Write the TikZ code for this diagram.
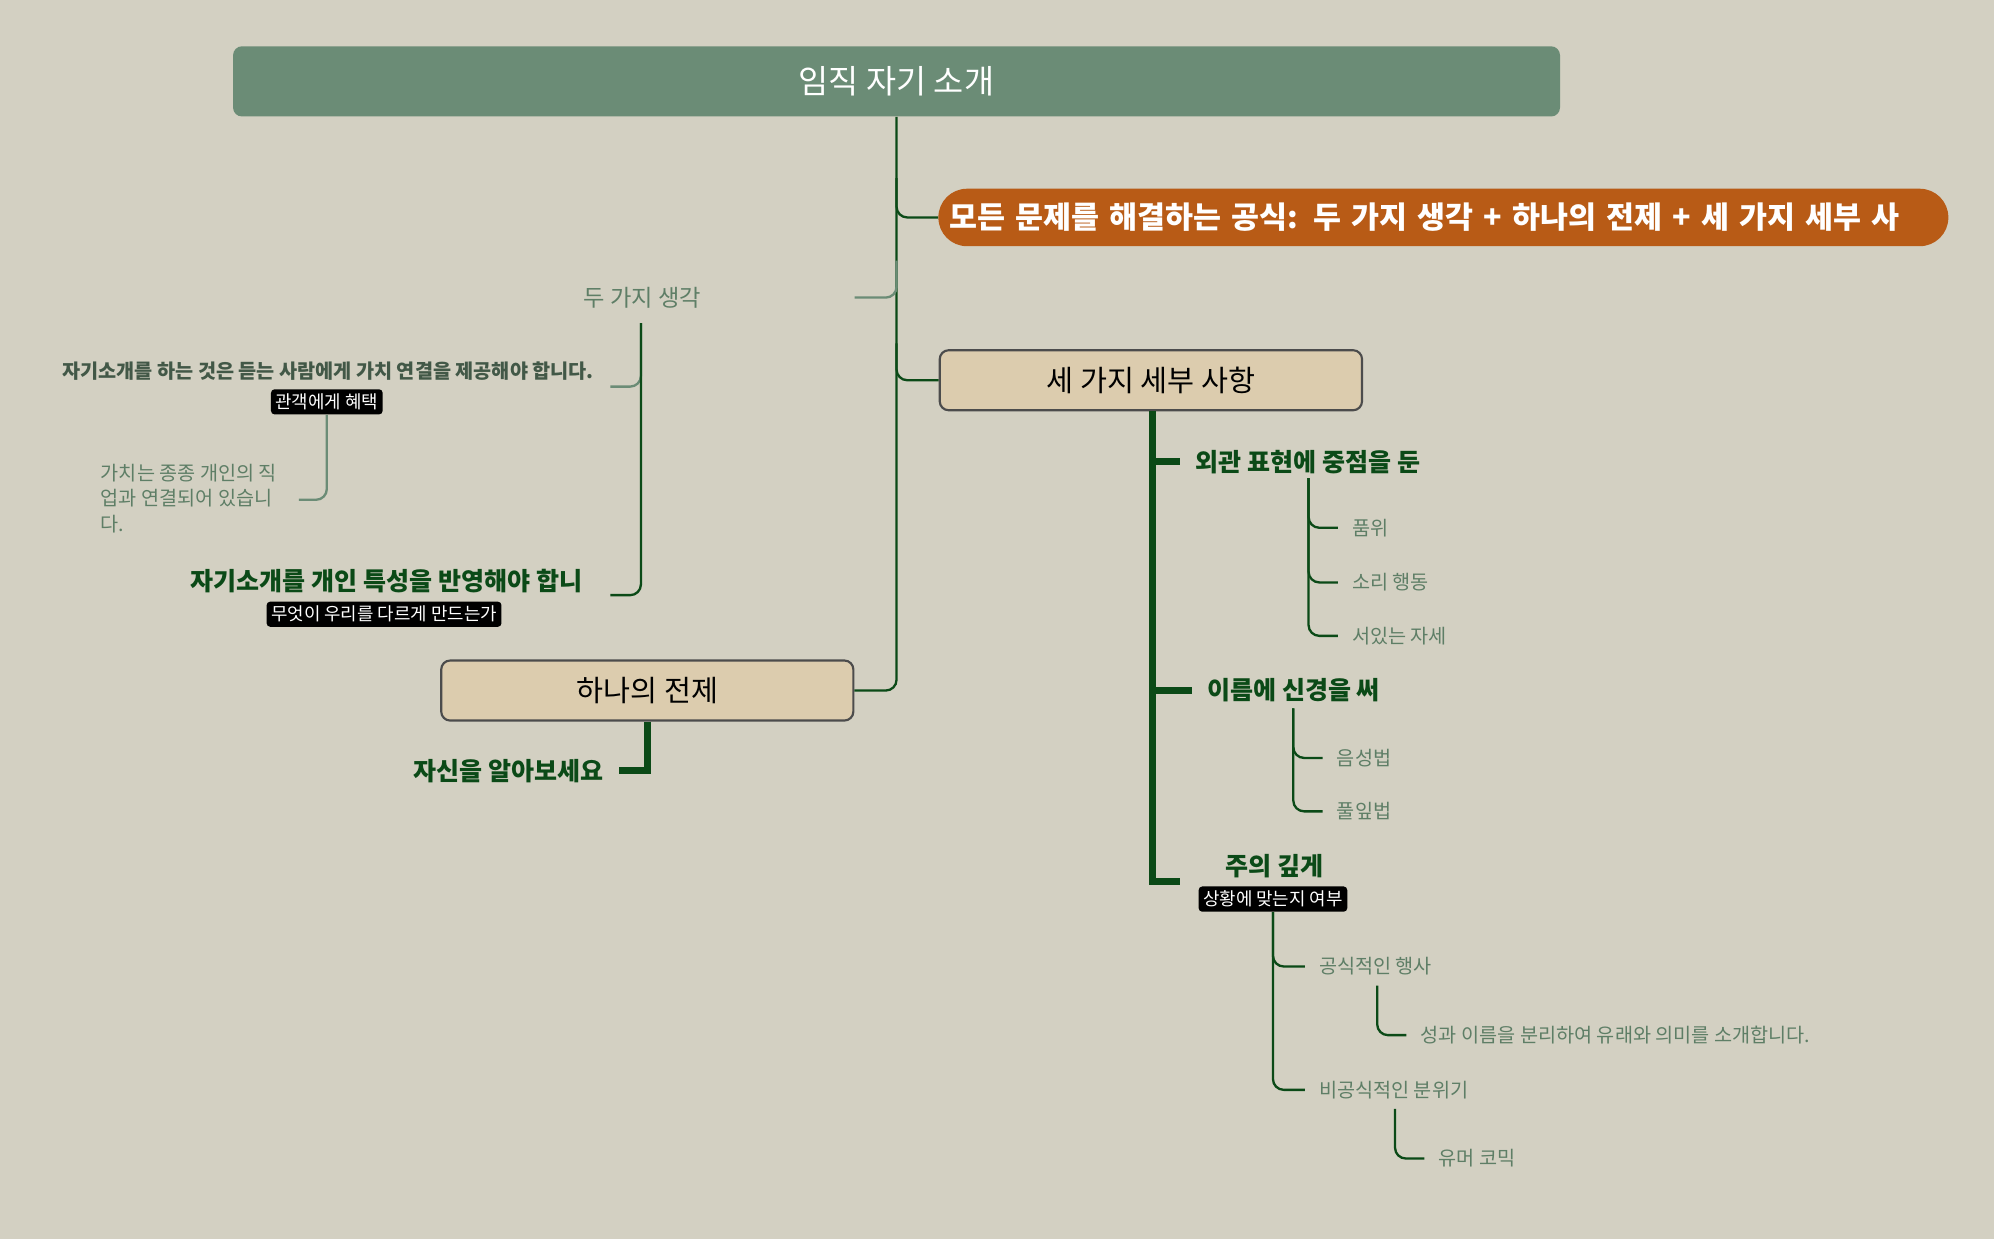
\documentclass[tikz,border=0pt]{standalone}
\usepackage{fontspec}
\setmainfont{Noto Sans CJK KR}
\definecolor{bgc}{HTML}{D3D0C2}
\definecolor{rootc}{HTML}{6B8C76}
\definecolor{orangec}{HTML}{B85B16}
\definecolor{boxc}{HTML}{DCCCAE}
\definecolor{darkg}{HTML}{0B4A17}
\definecolor{softg}{HTML}{5E7E66}
\begin{document}
\begin{tikzpicture}[x=0.025cm, y=-0.025cm,
  rootStyle/.style={rectangle, rounded corners=5pt, fill=rootc, text=white, minimum width=26.08cm, minimum height=1.38cm, font=\fontsize{18.3}{21}\selectfont},
  pillStyle/.style={rectangle, rounded corners=16pt, fill=orangec, text=white, minimum width=19.85cm, minimum height=1.13cm, font=\bfseries\fontsize{17}{20}\selectfont, text width=19.4cm, align=left},
  boxStyle/.style={rectangle, rounded corners=5pt, fill=boxc, draw=black!70, line width=1.2pt, minimum height=1.18cm, font=\fontsize{16.4}{19}\selectfont},
  tagStyle/.style={rectangle, rounded corners=2pt, fill=black, text=white, inner sep=2.5pt, font=\fontsize{10}{12}\selectfont},
  boldStyle/.style={text=darkg, font=\bfseries\fontsize{14}{16}\selectfont, inner sep=0pt},
  smallStyle/.style={text=softg, font=\fontsize{11}{14}\selectfont, inner sep=0pt},
  lineStyle/.style={draw=darkg, line width=1.3pt, rounded corners=6pt},
  softLine/.style={draw=rootc, line width=1.3pt, rounded corners=6pt},
  thickLine/.style={draw=darkg, line width=4pt}]
  \fill[bgc] (0,0) rectangle (1568,974);

  % root and first level
  \node[rootStyle] (root) at (705,64) {임직 자기 소개};
  \node[pillStyle] (formula) at (1135,171) {모든 문제를 해결하는 공식: 두 가지 생각 + 하나의 전제 + 세 가지 세부 사};
  \node[text=softg, font=\fontsize{13}{15}\selectfont] (twoThoughts) at (505,234) {두 가지 생각};
  \node[boxStyle, minimum width=8.3cm] (details) at (905,299) {세 가지 세부 사항};
  \node[boxStyle, minimum width=8.1cm] (premise) at (509,543) {하나의 전제};

  \coordinate (t_formula) at (705,140);
  \coordinate (t_two) at (705,205);
  \coordinate (t_det) at (705,270);
  \coordinate (e_two) at (672,234);
  \draw[lineStyle] (root.south) -- (t_formula) |- (formula.west);
  \draw[lineStyle] (t_formula) -- (t_det) |- (details.west);
  \draw[lineStyle] (t_det) |- (premise.east);
  \draw[softLine] (t_two) |- (e_two);

  % two thoughts
  \node[text=softg!70!black, font=\bfseries\fontsize{11}{13}\selectfont, inner sep=0pt] (value) at (258,292) {자기소개를 하는 것은 듣는 사람에게 가치 연결을 제공해야 합니다.};
  \node[tagStyle] (valueTag) at (257,316) {관객에게 혜택};
  \node[boldStyle] (trait) at (304,457) {자기소개를 개인 특성을 반영해야 합니};
  \node[tagStyle] (traitTag) at (302,483) {무엇이 우리를 다르게 만드는가};
  \node[smallStyle, align=left, anchor=west, font=\fontsize{11}{14.2}\selectfont] (job) at (79,392) {가치는 종종 개인의 직\\업과 연결되어 있습니\\다.};
  \coordinate (c_two) at (504,254);
  \coordinate (e_value) at (480,304);
  \coordinate (e_trait) at (480,468);
  \coordinate (e_job) at (235,393);
  \draw[softLine] (c_two) |- (e_value);
  \draw[lineStyle] (c_two) |- (e_trait);
  \draw[softLine] (valueTag.south) |- (e_job);

  % premise
  \node[boldStyle] (know) at (400,606) {자신을 알아보세요};
  \draw[thickLine] (premise.south) |- (487,606);

  % details
  \node[boldStyle, anchor=west] (look) at (940,363) {외관 표현에 중점을 둔};
  \node[boldStyle, anchor=west] (name) at (949,543) {이름에 신경을 써};
  \node[boldStyle] (care) at (1002,681) {주의 깊게};
  \node[tagStyle] (careTag) at (1001,707) {상황에 맞는지 여부};
  \draw[thickLine] (details.south -| 906,0) |- (928,363);
  \draw[thickLine] (906,360) |- (937,543);
  \draw[thickLine] (906,540) |- (928,693);

  \foreach \y/\t in {415/품위, 458/소리 행동, 500/서있는 자세} {
    \node[smallStyle, anchor=west] (look\y) at (1063,\y) {\t};
    \draw[lineStyle] (1029,376) |- (1052,\y);
  }
  \foreach \y/\t in {596/음성법, 638/풀잎법} {
    \node[smallStyle, anchor=west] (name\y) at (1051,\y) {\t};
    \draw[lineStyle] (1017,557) |- (1040,\y);
  }
  \node[smallStyle, anchor=west] (formal) at (1037,760) {공식적인 행사};
  \node[smallStyle, anchor=west] (informal) at (1037,857) {비공식적인 분위기};
  \node[smallStyle, anchor=west] (surname) at (1117,814) {성과 이름을 분리하여 유래와 의미를 소개합니다.};
  \node[smallStyle, anchor=west] (humor) at (1131,911) {유머 코믹};
  \draw[lineStyle] (careTag.south) |- (1026,760);
  \draw[lineStyle] (careTag.south) |- (1026,857);
  \draw[lineStyle] (1083,775) |- (1106,814);
  \draw[lineStyle] (1097,872) |- (1120,911);
\end{tikzpicture}
\end{document}
